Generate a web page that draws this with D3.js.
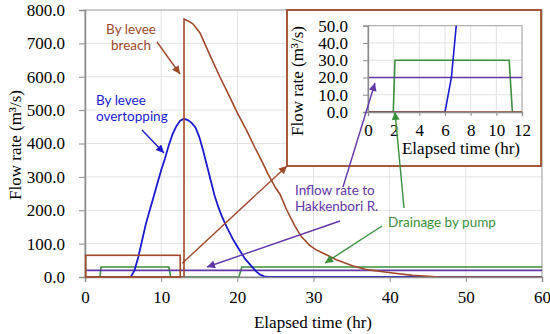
<!DOCTYPE html>
<html><head><meta charset="utf-8">
<script src="https://cdn.jsdelivr.net/npm/d3@7"></script>
<style>body{margin:0;background:#fff}svg{display:block}</style>
</head><body>
<script>
// ---------- data ----------
const overtopT = [0,6.0,6.5,7.0,7.5,8.0,8.5,9.0,9.5,10.0,10.5,11.0,11.5,12.0,12.5,13.0,13.5,14.0,14.5,15.0,15.5,16.0,16.5,17.0,17.5,18.0,18.6,19.5,20.3,21.0,21.9,22.5,23.0,23.5,24.0,60];
const overtopV = [0,0,20,60,110,160,200,240,280,320,355,395,428,452,468,474,470,462,448,420,380,335,290,245,210,180,150,110,80,55,31,16,7,2,0,0];
const breachT = [0,13.0,13.0,13.5,14.2,15.1,16.4,17.7,19.0,20.0,21.2,22.3,23.2,24.0,25.0,25.6,26.5,27.6,28.4,29.5,30.3,31.2,33.0,35.2,37.0,40.4,43.0,46.6,60];
const breachV = [0,0,773,768,758,731,665,600,540,492,440,388,348,310,268,248,200,151,121,95,82,72,52,33,22,12,5,0,0];
const pumpT = [0,1.97,2.1,11.0,11.25,20.2,20.6,60];
const pumpV = [0,0,30,30,0,0,30,30];
const inflowT = [0,60];
const inflowV = [20,20];
const xTicks = [0,10,20,30,40,50,60];
const yTicks = [0,100,200,300,400,500,600,700,800];
const insetXTicks = [0,2,4,6,8,10,12];
const insetYTicks = [0,10,20,30,40,50];
const zoomBox = {t0:0.1, t1:12.5, v0:0, v1:65};

const C = {blue:"#1a1ad0", brown:"#a0482a", purple:"#6236a8", green:"#3b8f3b",
           grid:"#e2e2e2", axis:"#8c8c8c"};
const serif = "'Liberation Serif','Times New Roman',serif";
const sans = "Lato,'Open Sans',sans-serif";

const W=550,H=334;
const svg = d3.select("body").append("svg").attr("width",W).attr("height",H);
const defs = svg.append("defs");
function marker(id,color){
  defs.append("marker").attr("id",id).attr("viewBox","0 0 10 10")
    .attr("refX",10).attr("refY",5).attr("markerWidth",9).attr("markerHeight",8)
    .attr("markerUnits","userSpaceOnUse").attr("orient","auto")
    .append("path").attr("d","M0,0L10,5L0,10z").attr("fill",color);
}
marker("mBlue",C.blue);marker("mBrown",C.brown);marker("mPurple",C.purple);marker("mGreen",C.green);

function zip(T,V){return T.map((t,i)=>[t,V[i]]);}

// ---------- main chart ----------
const x = d3.scaleLinear().domain([0,60]).range([85,542]);
const y = d3.scaleLinear().domain([0,800]).range([277,10]);

const g = svg.append("g");
g.append("g").selectAll("line").data(yTicks).join("line")
  .attr("x1",x(0)).attr("x2",x(60)).attr("y1",d=>y(d)).attr("y2",d=>y(d))
  .attr("stroke",C.grid);
g.append("g").selectAll("line").data(xTicks).join("line")
  .attr("y1",y(0)).attr("y2",y(800)).attr("x1",d=>x(d)).attr("x2",d=>x(d))
  .attr("stroke",C.grid);
g.append("rect").attr("x",x(0)).attr("y",y(800)).attr("width",x(60)-x(0)).attr("height",y(0)-y(800))
  .attr("fill","none").attr("stroke","#a6a6a6");

defs.append("clipPath").attr("id","clipMain").append("rect")
  .attr("x",x(0)).attr("y",y(800)-2).attr("width",x(60)-x(0)).attr("height",y(0)-y(800)+2);

const line = d3.line().x(d=>x(d[0])).y(d=>y(d[1]));
const lg = g.append("g").attr("clip-path","url(#clipMain)");
lg.append("path").attr("d",line(zip(pumpT,pumpV))).attr("fill","none").attr("stroke",C.green).attr("stroke-width",1.6);
lg.append("path").attr("d",line(zip(inflowT,inflowV))).attr("fill","none").attr("stroke",C.purple).attr("stroke-width",1.6);
lg.append("path").attr("d",line(zip(overtopT,overtopV))).attr("fill","none").attr("stroke",C.blue).attr("stroke-width",1.8);
lg.append("path").attr("d",line(zip(breachT,breachV))).attr("fill","none").attr("stroke",C.brown).attr("stroke-width",1.6);

// axes
const yAx = g.append("g").attr("transform",`translate(${x(0)},0)`)
  .call(d3.axisLeft(y).tickValues(yTicks).tickSize(6).tickPadding(14).tickFormat(d3.format(".1f")));
const xAx = g.append("g").attr("transform",`translate(0,${y(0)})`)
  .call(d3.axisBottom(x).tickValues(xTicks).tickSize(5).tickPadding(9).tickFormat(d3.format("d")));
[yAx,xAx].forEach(a=>{
  a.attr("font-family",serif).attr("font-size",17);
  a.select(".domain").attr("stroke",C.axis).attr("stroke-width",1.5);
  a.selectAll(".tick line").attr("stroke",C.axis);
  a.selectAll("text").attr("font-family",serif).attr("font-size",17).attr("fill","#000");
});
g.append("text").attr("transform",`translate(21,145) rotate(-90)`).attr("text-anchor","middle")
  .attr("font-family",serif).attr("font-size",17).text("Flow rate (m³/s)");
g.append("text").attr("x",313).attr("y",328).attr("text-anchor","middle")
  .attr("font-family",serif).attr("font-size",17).text("Elapsed time (hr)");

// zoom box
g.append("rect").attr("x",x(zoomBox.t0)).attr("y",y(zoomBox.v1))
  .attr("width",x(zoomBox.t1)-x(zoomBox.t0)).attr("height",y(zoomBox.v0)-y(zoomBox.v1))
  .attr("fill","none").attr("stroke",C.brown).attr("stroke-width",1.6);

// ---------- inset ----------
const bx0=287,bx1=541,by0=10,by1=166;
svg.append("rect").attr("x",bx0).attr("y",by0).attr("width",bx1-bx0).attr("height",by1-by0)
  .attr("fill","#fff").attr("stroke",C.brown).attr("stroke-width",1.8);
const ix = d3.scaleLinear().domain([0,12]).range([368,522]);
const iy = d3.scaleLinear().domain([0,50]).range([112,25.7]);
const ig = svg.append("g");
ig.append("g").selectAll("line").data(insetYTicks).join("line")
  .attr("x1",ix(0)).attr("x2",ix(12)).attr("y1",d=>iy(d)).attr("y2",d=>iy(d)).attr("stroke",C.grid);
ig.append("g").selectAll("line").data(insetXTicks).join("line")
  .attr("y1",iy(0)).attr("y2",iy(50)).attr("x1",d=>ix(d)).attr("x2",d=>ix(d)).attr("stroke",C.grid);
ig.append("rect").attr("x",ix(0)).attr("y",iy(50)).attr("width",ix(12)-ix(0)).attr("height",iy(0)-iy(50))
  .attr("fill","none").attr("stroke","#a6a6a6");
defs.append("clipPath").attr("id","clipInset").append("rect")
  .attr("x",ix(0)).attr("y",iy(50)).attr("width",ix(12)-ix(0)).attr("height",iy(0)-iy(50)+1);
const iline = d3.line().x(d=>ix(d[0])).y(d=>iy(d[1]));
const il = ig.append("g").attr("clip-path","url(#clipInset)");
il.append("path").attr("d",iline(zip(pumpT,pumpV))).attr("fill","none").attr("stroke",C.green).attr("stroke-width",1.6);
il.append("path").attr("d",iline(zip(inflowT,inflowV))).attr("fill","none").attr("stroke",C.purple).attr("stroke-width",1.6);
il.append("path").attr("d",iline(zip(overtopT,overtopV))).attr("fill","none").attr("stroke",C.blue).attr("stroke-width",1.6);
il.append("path").attr("d",iline(zip(breachT,breachV))).attr("fill","none").attr("stroke",C.brown).attr("stroke-width",1.6);
const iyAx = ig.append("g").attr("transform",`translate(${ix(0)},0)`)
  .call(d3.axisLeft(iy).tickValues(insetYTicks).tickSize(5).tickPadding(15).tickFormat(d3.format(".1f")));
const ixAx = ig.append("g").attr("transform",`translate(0,${iy(0)})`)
  .call(d3.axisBottom(ix).tickValues(insetXTicks).tickSize(4).tickPadding(8).tickFormat(d3.format("d")));
[iyAx,ixAx].forEach(a=>{
  a.attr("font-family",serif).attr("font-size",17);
  a.select(".domain").attr("stroke",C.axis).attr("stroke-width",1.3);
  a.selectAll(".tick line").attr("stroke",C.axis);
  a.selectAll("text").attr("font-family",serif).attr("font-size",17).attr("fill","#000");
});
ig.append("text").attr("transform",`translate(303,81) rotate(-90)`).attr("text-anchor","middle")
  .attr("font-family",serif).attr("font-size",17).text("Flow rate (m³/s)");
ig.append("text").attr("x",461).attr("y",154).attr("text-anchor","middle")
  .attr("font-family",serif).attr("font-size",17).text("Elapsed time (hr)");

// ---------- annotations ----------
function arrow(x1,y1,x2,y2,color,m){
  svg.append("line").attr("x1",x1).attr("y1",y1).attr("x2",x2).attr("y2",y2)
    .attr("stroke",color).attr("stroke-width",1.4).attr("marker-end",`url(#${m})`);
}
function label(lines,xp,yp,color,anchor){
  lines.forEach((s,i)=>svg.append("text").attr("font-family",sans).attr("font-size",13.5)
    .attr("fill",color).attr("text-anchor",anchor).attr("x",xp).attr("y",yp+i*16.3).text(s));
}
label(["By levee","breach"],131,33.5,C.brown,"middle");
arrow(157,42,180,74,C.brown,"mBrown");
label(["By levee","overtopping"],96,105,C.blue,"start");
arrow(142,130,164,153,C.blue,"mBlue");
arrow(x(zoomBox.t1)+2,y(zoomBox.v1)+8,bx0,by1,C.brown,"mBrown");
label(["Inflow rate to","Hakkenbori R."],295,195,C.purple,"start");
arrow(343,187,375,83,C.purple,"mPurple");
arrow(340,221,207,267,C.purple,"mPurple");
label(["Drainage by pump"],388,227,C.green,"start");
arrow(404,208,395,112,C.green,"mGreen");
arrow(382,226,325,263,C.green,"mGreen");
</script>
</body></html>
